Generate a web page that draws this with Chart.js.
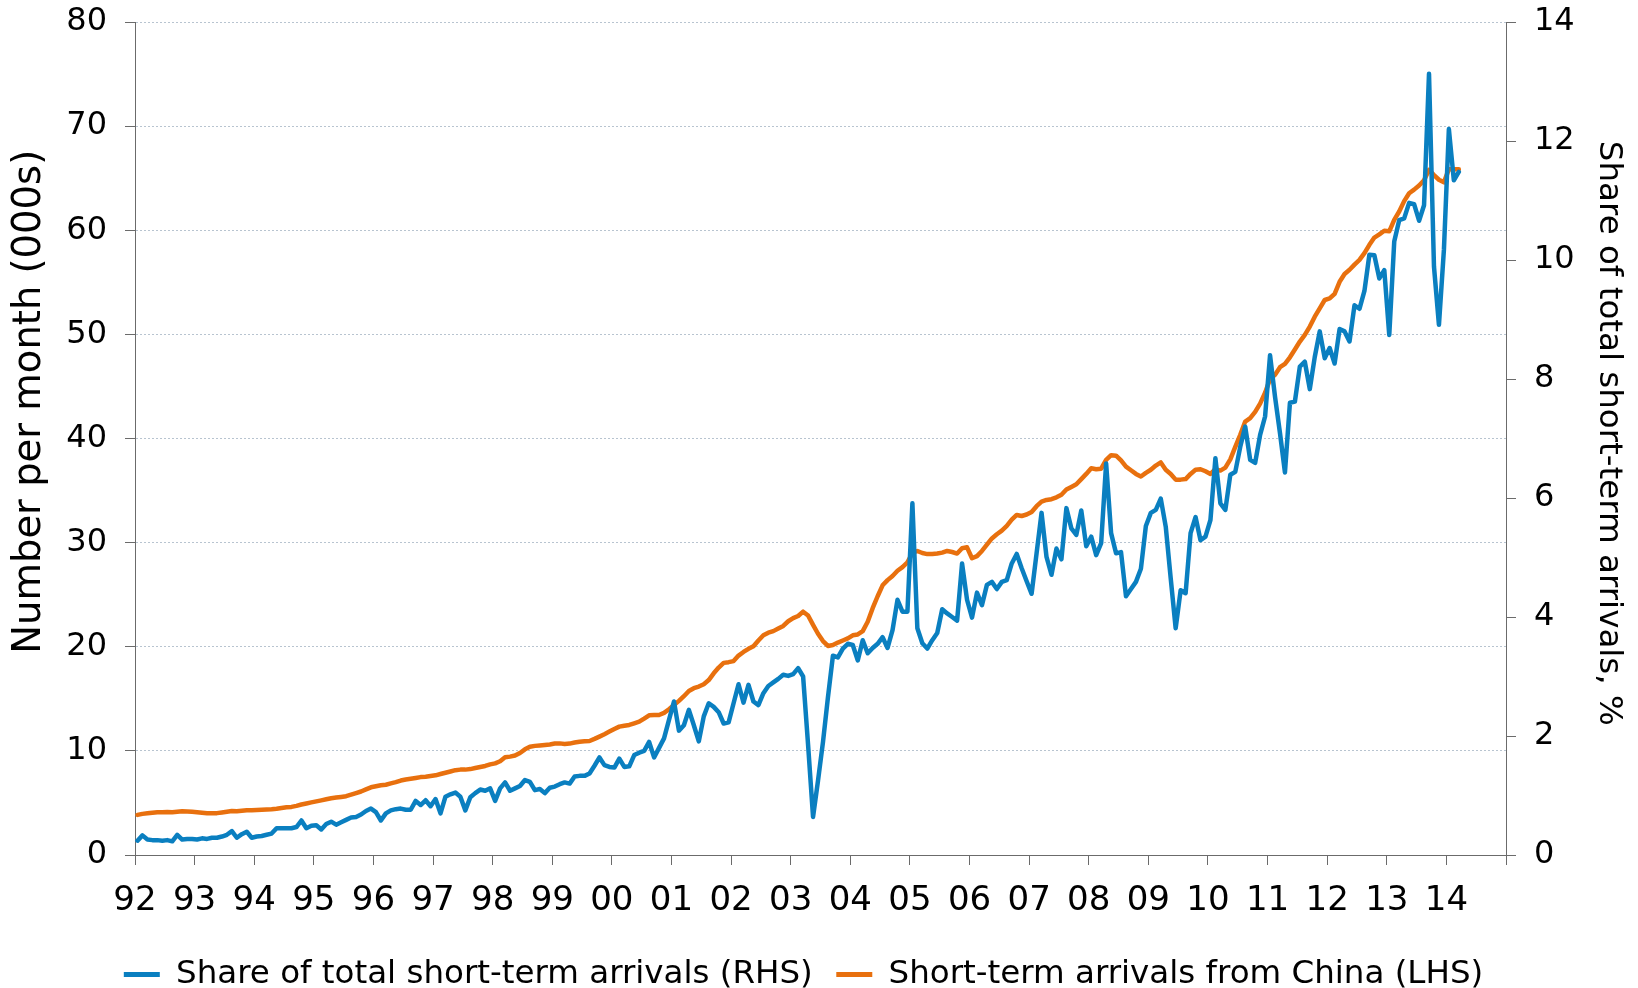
<!DOCTYPE html>
<html>
<head>
<meta charset="utf-8">
<script src="https://cdn.jsdelivr.net/npm/chart.js@4"></script>
<style>
  html, body { margin: 0; padding: 0; background: #fff; }
</style>
</head>
<body>
<canvas id="chart" width="1638" height="988"></canvas>
<script>
// year labels on the x axis, one per January (axis runs Jan 92 - Dec 14)
const yearLabels = ['92', '93', '94', '95', '96', '97', '98', '99', '00', '01', '02',
                    '03', '04', '05', '06', '07', '08', '09', '10', '11', '12', '13', '14'];

// monthly, Jan 1992 - Mar 2014, one row per year
const shareRHS = [
    0.24, 0.33, 0.26, 0.25, 0.25, 0.24, 0.25, 0.23, 0.34, 0.26, 0.27, 0.27,
    0.26, 0.28, 0.27, 0.29, 0.29, 0.31, 0.34, 0.40, 0.29, 0.35, 0.39, 0.29,
    0.31, 0.32, 0.34, 0.36, 0.45, 0.45, 0.45, 0.45, 0.47, 0.58, 0.45, 0.49,
    0.50, 0.43, 0.52, 0.56, 0.51, 0.55, 0.59, 0.63, 0.64, 0.68, 0.74, 0.78,
    0.72, 0.58, 0.70, 0.75, 0.77, 0.78, 0.76, 0.76, 0.91, 0.84, 0.92, 0.82,
    0.94, 0.70, 0.98, 1.02, 1.05, 0.98, 0.75, 0.97, 1.04, 1.10, 1.08, 1.12,
    0.91, 1.12, 1.22, 1.08, 1.12, 1.16, 1.26, 1.23, 1.09, 1.11, 1.04, 1.13,
    1.15, 1.19, 1.22, 1.20, 1.32, 1.33, 1.33, 1.37, 1.50, 1.64, 1.51, 1.48,
    1.47, 1.62, 1.48, 1.49, 1.68, 1.72, 1.75, 1.90, 1.64, 1.80, 1.96, 2.27,
    2.58, 2.09, 2.18, 2.44, 2.18, 1.91, 2.33, 2.55, 2.49, 2.40, 2.21, 2.23,
    2.55, 2.87, 2.56, 2.86, 2.58, 2.52, 2.72, 2.84, 2.90, 2.96, 3.03, 3.01,
    3.04, 3.14, 3.00, 1.85, 0.64, 1.25, 1.90, 2.65, 3.35, 3.32, 3.47, 3.55,
    3.53, 3.27, 3.61, 3.39, 3.48, 3.55, 3.66, 3.48, 3.78, 4.29, 4.09, 4.09,
    5.91, 3.81, 3.56, 3.47, 3.61, 3.73, 4.13, 4.06, 4.00, 3.94, 4.90, 4.29,
    3.99, 4.41, 4.20, 4.54, 4.59, 4.47, 4.59, 4.62, 4.90, 5.06, 4.82, 4.60,
    4.39, 5.07, 5.75, 5.01, 4.71, 5.15, 4.97, 5.83, 5.49, 5.38, 5.79, 5.19,
    5.35, 5.04, 5.24, 6.58, 5.41, 5.07, 5.09, 4.35, 4.47, 4.59, 4.81, 5.53,
    5.75, 5.80, 5.99, 5.52, 4.65, 3.81, 4.45, 4.40, 5.41, 5.68, 5.29, 5.35,
    5.63, 6.67, 5.91, 5.80, 6.39, 6.44, 6.86, 7.20, 6.64, 6.59, 7.06, 7.37,
    8.40, 7.70, 7.09, 6.43, 7.60, 7.62, 8.21, 8.29, 7.83, 8.37, 8.80, 8.35,
    8.52, 8.26, 8.84, 8.80, 8.63, 9.24, 9.18, 9.48, 10.09, 10.08, 9.69, 9.83,
    8.74, 10.31, 10.67, 10.70, 10.96, 10.94, 10.66, 10.92, 13.13, 9.89, 8.91, 10.17,
    12.20, 11.34, 11.48
];

const chinaLHS = [
    3.85, 3.95, 4.00, 4.05, 4.10, 4.10, 4.12, 4.10, 4.15, 4.20, 4.18, 4.15,
    4.10, 4.05, 4.00, 4.00, 4.02, 4.08, 4.15, 4.22, 4.20, 4.25, 4.30, 4.30,
    4.32, 4.35, 4.37, 4.40, 4.45, 4.52, 4.58, 4.62, 4.72, 4.85, 4.95, 5.05,
    5.15, 5.25, 5.35, 5.45, 5.52, 5.58, 5.65, 5.80, 5.95, 6.10, 6.30, 6.50,
    6.60, 6.70, 6.75, 6.88, 7.00, 7.15, 7.25, 7.32, 7.40, 7.48, 7.52, 7.58,
    7.65, 7.78, 7.90, 8.02, 8.15, 8.20, 8.20, 8.25, 8.35, 8.45, 8.55, 8.70,
    8.80, 9.00, 9.38, 9.45, 9.55, 9.80, 10.15, 10.40, 10.48, 10.52, 10.57, 10.62,
    10.70, 10.72, 10.67, 10.70, 10.80, 10.88, 10.92, 10.95, 11.15, 11.37, 11.60, 11.85,
    12.10, 12.33, 12.42, 12.49, 12.65, 12.80, 13.10, 13.42, 13.45, 13.45, 13.65, 14.00,
    14.40, 14.80, 15.25, 15.75, 16.02, 16.18, 16.40, 16.80, 17.45, 18.00, 18.45, 18.52,
    18.62, 19.15, 19.50, 19.80, 20.05, 20.60, 21.10, 21.35, 21.50, 21.75, 22.00, 22.45,
    22.75, 22.95, 23.37, 23.00, 22.10, 21.25, 20.55, 20.08, 20.17, 20.40, 20.60, 20.80,
    21.10, 21.18, 21.50, 22.40, 23.70, 24.85, 25.90, 26.40, 26.80, 27.30, 27.65, 28.10,
    29.00, 29.20, 29.00, 28.90, 28.90, 28.95, 29.04, 29.20, 29.10, 28.95, 29.46, 29.55,
    28.50, 28.70, 29.20, 29.80, 30.40, 30.80, 31.15, 31.60, 32.20, 32.66, 32.56, 32.70,
    32.95, 33.50, 33.94, 34.10, 34.17, 34.35, 34.60, 35.10, 35.35, 35.60, 36.10, 36.60,
    37.14, 37.05, 37.10, 37.95, 38.40, 38.35, 37.90, 37.30, 36.95, 36.60, 36.35, 36.70,
    37.00, 37.40, 37.70, 37.00, 36.60, 36.05, 36.05, 36.10, 36.60, 37.00, 37.05, 36.85,
    36.60, 37.05, 36.92, 37.20, 38.00, 39.20, 40.35, 41.63, 41.95, 42.55, 43.35, 44.40,
    45.70, 46.11, 46.85, 47.17, 47.80, 48.55, 49.31, 49.95, 50.75, 51.70, 52.50, 53.30,
    53.45, 53.90, 55.05, 55.80, 56.20, 56.70, 57.15, 57.80, 58.60, 59.30, 59.60, 59.95,
    59.90, 61.00, 61.80, 62.80, 63.55, 63.90, 64.30, 64.80, 65.80, 65.30, 64.85, 64.60,
    65.87, 65.87, 65.85
];

const BLUE = '#0a7fc0';
const ORANGE = '#e8700e';
const AXIS = '#6b6b6b';
const GRID = '#b8c4d0';

Chart.defaults.font.family = '"DejaVu Sans", Verdana, sans-serif';
Chart.defaults.color = '#000';

// each month sits in the middle of its slot on the month axis
const toPoints = arr => arr.map((v, i) => ({ x: i + 0.5, y: v }));

const lineStyle = {
    borderWidth: 4.5,
    pointRadius: 0,
    tension: 0,
    borderJoinStyle: 'round',
    borderCapStyle: 'round'
};

// fixed axis box sizes so the plot area sits where the original has it
const fitY = width => s => {
    s.width = width;
    s.paddingTop = 0;
    s.paddingBottom = 0;
};

new Chart(document.getElementById('chart'), {
    type: 'line',
    data: {
        datasets: [
            {
                label: 'Share of total short-term arrivals (RHS)',
                data: toPoints(shareRHS),
                yAxisID: 'yR',
                borderColor: BLUE,
                backgroundColor: BLUE,
                ...lineStyle
            },
            {
                label: 'Short-term arrivals from China (LHS)',
                data: toPoints(chinaLHS),
                yAxisID: 'yL',
                borderColor: ORANGE,
                backgroundColor: ORANGE,
                ...lineStyle
            }
        ]
    },
    options: {
        responsive: false,
        animation: false,
        layout: { padding: { top: 22, bottom: -12.75, left: 0, right: 0 } },
        plugins: {
            tooltip: { enabled: false },
            legend: {
                position: 'bottom',
                labels: {
                    boxWidth: 36,
                    boxHeight: 5,
                    padding: 23.5,
                    font: { size: 32.5 },
                    color: '#000',
                    generateLabels: chart =>
                        Chart.defaults.plugins.legend.labels.generateLabels(chart).map((item, i) => ({
                            ...item,
                            fillStyle: item.strokeStyle,
                            lineWidth: 0,
                            text: i === 1 ? item.text + '   ' : item.text
                        }))
                }
            }
        },
        scales: {
            x: {
                type: 'linear',
                min: 0,
                max: 276,
                afterFit: s => { s.height = 79.75; },
                grid: { drawOnChartArea: false, tickLength: 10, tickColor: AXIS, tickWidth: 1 },
                border: { color: AXIS, width: 1 },
                ticks: {
                    stepSize: 12,
                    autoSkip: false,
                    maxRotation: 0,
                    padding: 16,
                    font: { size: 34 },
                    callback: v => yearLabels[v / 12] ?? ''
                }
            },
            yL: {
                position: 'left',
                min: 0,
                max: 80,
                afterFit: fitY(135),
                grid: {
                    color: c => (c.tick && c.tick.value === 0) ? 'rgba(0,0,0,0)' : GRID,
                    lineWidth: 1,
                    tickLength: 10,
                    tickColor: AXIS,
                    tickWidth: 1
                },
                border: { color: AXIS, width: 1, dash: [2, 2] },
                ticks: { stepSize: 10, padding: 18, font: { size: 32 } },
                title: {
                    display: true,
                    text: '      Number per month (000s)',
                    font: { size: 38.5 },
                    padding: { top: 7, bottom: 0 }
                }
            },
            yR: {
                position: 'right',
                min: 0,
                max: 14,
                afterFit: fitY(132),
                grid: { drawOnChartArea: false, tickLength: 10, tickColor: AXIS, tickWidth: 1 },
                border: { color: AXIS, width: 1 },
                ticks: { stepSize: 2, padding: 18, font: { size: 32 } },
                title: {
                    display: true,
                    text: 'Share of total short-term arrivals, % ',
                    font: { size: 32.5 },
                    padding: { top: 10, bottom: 0 }
                }
            }
        }
    }
});
</script>
</body>
</html>
